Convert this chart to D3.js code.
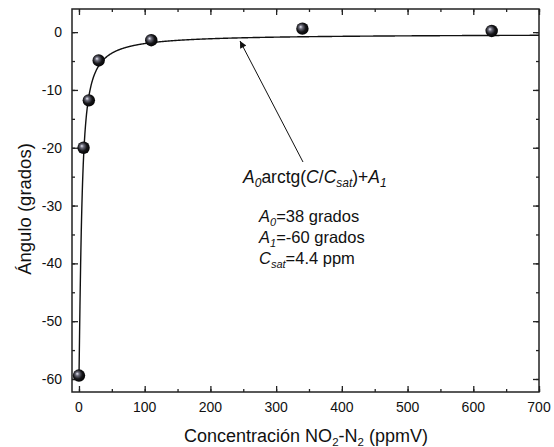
<!DOCTYPE html>
<html><head><meta charset="utf-8">
<script src="https://cdn.jsdelivr.net/npm/d3@7"></script>
<style>
body{margin:0;background:#fff;}
svg{display:block;}
text{font-family:Arial,"Liberation Sans",sans-serif;fill:#111;}
</style></head>
<body>
<svg id="c" width="554" height="447"></svg>
<script>
// Data
const concentration = [0, 7, 15, 30, 110, 340, 628];
const angle = [-59.4, -20, -11.8, -4.9, -1.4, 0.6, 0.2];
const xTicks = [0, 100, 200, 300, 400, 500, 600, 700];
const yTicks = [0, -10, -20, -30, -40, -50, -60];
// Fit parameters shown on the chart
const A0 = 38, A1 = -60, Csat = 4.4;

const W = 554, H = 447;
const m = {left: 72, right: 539, top: 9, bottom: 392};
const svg = d3.select("#c");

const x = d3.scaleLinear().domain([-10.6, 700]).range([m.left, m.right]);
const y = d3.scaleLinear().domain([-62.25, 4.0]).range([m.bottom, m.top]);

const defs = svg.append("defs");
const grad = defs.append("radialGradient").attr("id","ball")
  .attr("cx","45%").attr("cy","45%").attr("r","60%").attr("fx","35%").attr("fy","35%");
grad.append("stop").attr("offset","0%").attr("stop-color","#e8e8f4");
grad.append("stop").attr("offset","25%").attr("stop-color","#6a6a78");
grad.append("stop").attr("offset","60%").attr("stop-color","#151518");
grad.append("stop").attr("offset","100%").attr("stop-color","#000");
const mk = defs.append("marker").attr("id","arr").attr("viewBox","0 0 10 10")
  .attr("refX",10).attr("refY",5).attr("markerWidth",9).attr("markerHeight",7)
  .attr("markerUnits","userSpaceOnUse").attr("orient","auto");
mk.append("path").attr("d","M0,0 L10,5 L0,10 z").attr("fill","#111");

const clip = defs.append("clipPath").attr("id","pc");
clip.append("rect").attr("x",m.left).attr("y",m.top).attr("width",m.right-m.left).attr("height",m.bottom-m.top);

// axes (ticks inward)
const xMinor = d3.range(0, 701, 50);
const yMinor = d3.range(-60, 1, 5);
function axisLines(g, axis){ g.call(axis); g.select(".domain").remove(); g.selectAll("line").attr("stroke","#222").attr("stroke-width",1.3); }

svg.append("g").attr("transform",`translate(0,${m.bottom})`)
  .call(g=>axisLines(g, d3.axisTop(x).tickValues(xMinor).tickSize(3).tickFormat("")));
svg.append("g").attr("transform",`translate(0,${m.bottom})`)
  .call(g=>axisLines(g, d3.axisTop(x).tickValues(xTicks).tickSize(6).tickFormat("")));
svg.append("g").attr("transform",`translate(0,${m.top})`)
  .call(g=>axisLines(g, d3.axisBottom(x).tickValues(xMinor).tickSize(3).tickFormat("")));
svg.append("g").attr("transform",`translate(0,${m.top})`)
  .call(g=>axisLines(g, d3.axisBottom(x).tickValues(xTicks).tickSize(6).tickFormat("")));
svg.append("g").attr("transform",`translate(${m.left},0)`)
  .call(g=>axisLines(g, d3.axisRight(y).tickValues(yMinor).tickSize(3).tickFormat("")));
svg.append("g").attr("transform",`translate(${m.left},0)`)
  .call(g=>axisLines(g, d3.axisRight(y).tickValues(yTicks).tickSize(6).tickFormat("")));
svg.append("g").attr("transform",`translate(${m.right},0)`)
  .call(g=>axisLines(g, d3.axisLeft(y).tickValues(yMinor).tickSize(3).tickFormat("")));
svg.append("g").attr("transform",`translate(${m.right},0)`)
  .call(g=>axisLines(g, d3.axisLeft(y).tickValues(yTicks).tickSize(6).tickFormat("")));

// tick labels
svg.append("g").selectAll("text").data(xTicks).join("text")
  .attr("x",d=>x(d)).attr("y",412).attr("text-anchor","middle")
  .attr("font-size",14).text(d=>d);
svg.append("g").selectAll("text").data(yTicks).join("text")
  .attr("x",62).attr("y",d=>y(d)+5).attr("text-anchor","end")
  .attr("font-size",14).text(d=>d);

// frame
svg.append("rect").attr("x",m.left).attr("y",m.top).attr("width",m.right-m.left)
  .attr("height",m.bottom-m.top).attr("fill","none").attr("stroke","#222").attr("stroke-width",1.5);

// fit curve
const cs = d3.range(0, 700.5, 0.5);
const line = d3.line().x(c=>x(c)).y(c=>y(A0*Math.atan(c/Csat)+A1)).curve(d3.curveLinear);
svg.append("path").attr("clip-path","url(#pc)").attr("d", line(cs))
  .attr("fill","none").attr("stroke","#111").attr("stroke-width",1.4);

// points
svg.append("g").selectAll("circle").data(concentration).join("circle")
  .attr("cx",(d)=>x(d)).attr("cy",(d,i)=>y(angle[i])).attr("r",6.2)
  .attr("fill","url(#ball)");

// arrow
svg.append("line").attr("x1",303).attr("y1",162).attr("x2",240).attr("y2",41)
  .attr("stroke","#111").attr("stroke-width",1).attr("marker-end","url(#arr)");

// formula
const f = svg.append("text").attr("x",243).attr("y",183).attr("font-size",17.5);
f.append("tspan").attr("font-style","italic").text("A");
f.append("tspan").attr("font-style","italic").attr("font-size",12).attr("dy",4).text("0");
f.append("tspan").attr("dy",-4).text("arctg(");
f.append("tspan").attr("font-style","italic").text("C");
f.append("tspan").text("/");
f.append("tspan").attr("font-style","italic").text("C");
f.append("tspan").attr("font-style","italic").attr("font-size",12).attr("dy",4).text("sat");
f.append("tspan").attr("dy",-4).text(")+");
f.append("tspan").attr("font-style","italic").text("A");
f.append("tspan").attr("font-style","italic").attr("font-size",12).attr("dy",4).text("1");

function param(yy, main, sub, rest){
  const t = svg.append("text").attr("x",259).attr("y",yy).attr("font-size",16.5);
  t.append("tspan").attr("font-style","italic").text(main);
  t.append("tspan").attr("font-style","italic").attr("font-size",11).attr("dy",4).text(sub);
  t.append("tspan").attr("dy",-4).text(rest);
}
param(222, "A", "0", "=38 grados");
param(243, "A", "1", "=-60 grados");
param(264, "C", "sat", "=4.4 ppm");

// axis titles
const xt = svg.append("text").attr("x",306).attr("y",442).attr("text-anchor","middle").attr("font-size",18);
xt.append("tspan").text("Concentración NO");
xt.append("tspan").attr("font-size",11.5).attr("dy",4).text("2");
xt.append("tspan").attr("dy",-4).text("-N");
xt.append("tspan").attr("font-size",11.5).attr("dy",4).text("2");
xt.append("tspan").attr("dy",-4).text(" (ppmV)");

svg.append("text").attr("transform","translate(31,209) rotate(-90)")
  .attr("text-anchor","middle").attr("font-size",18.5).text("Ángulo (grados)");
</script>
</body></html>
